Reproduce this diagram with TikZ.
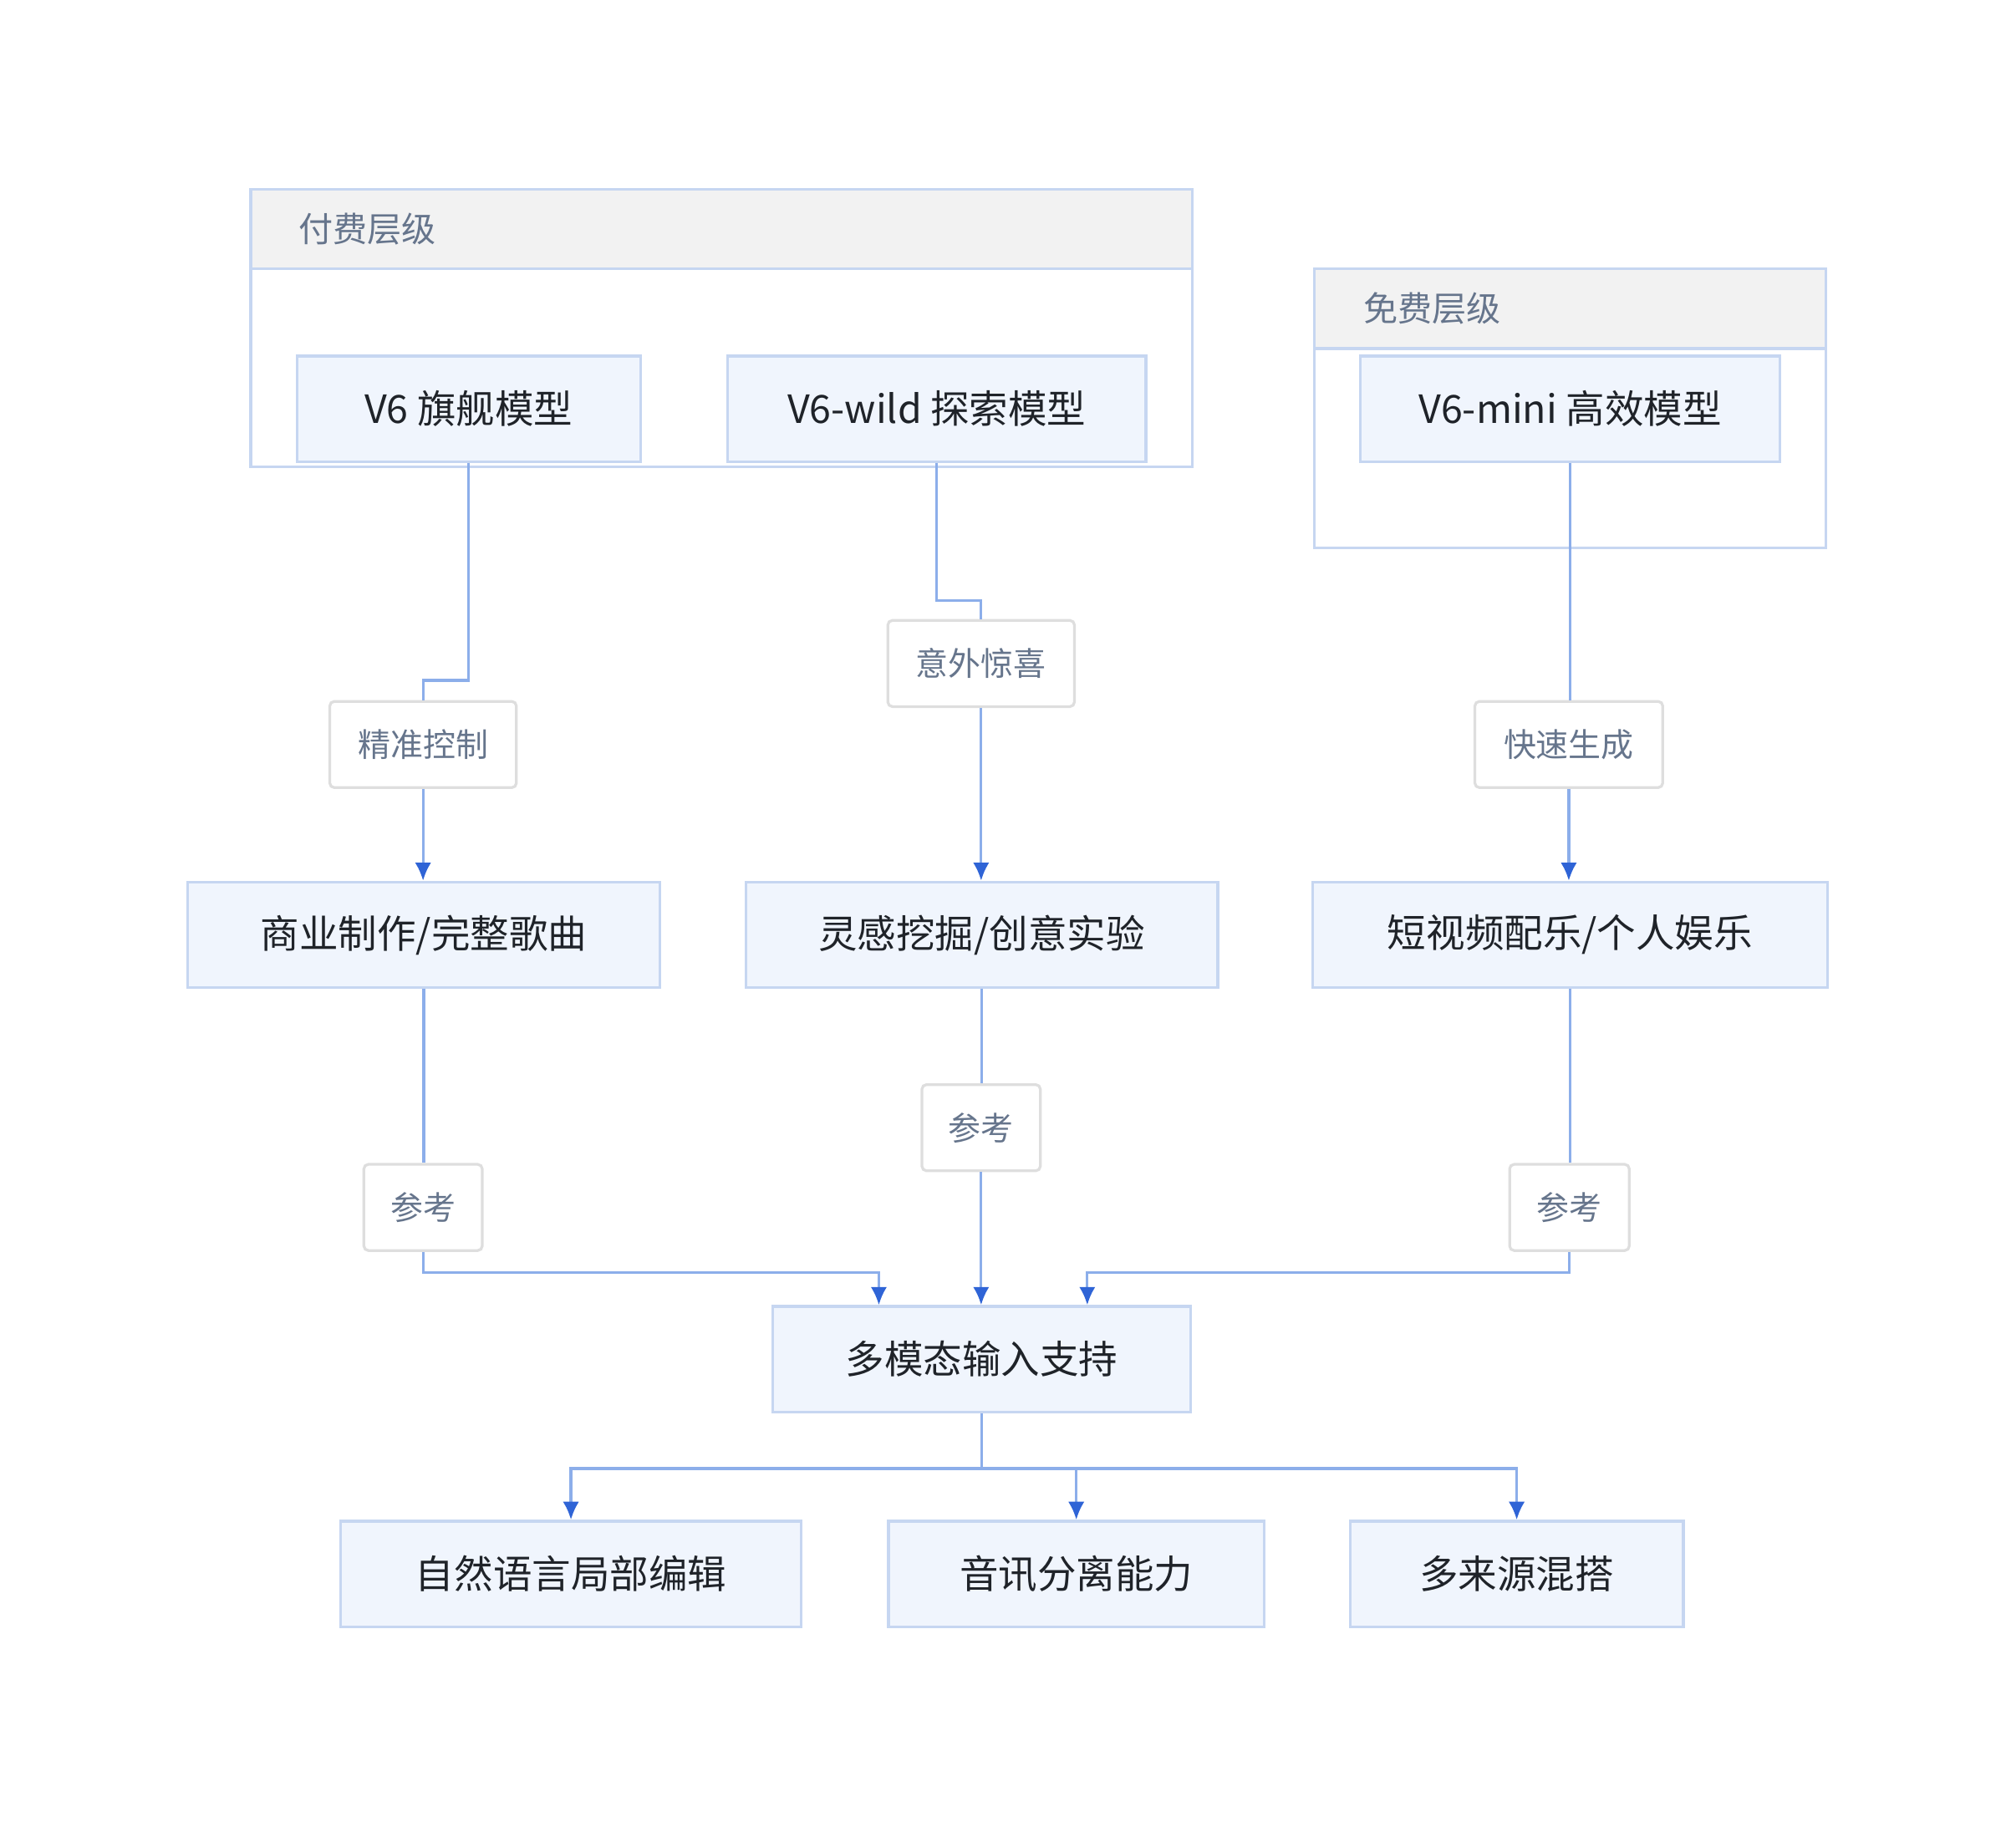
\documentclass[tikz,border=0pt]{standalone}
\usepackage{fontspec}
\setmainfont{Noto Sans CJK SC}
\usetikzlibrary{arrows.meta,positioning}
\definecolor{boxfill}{HTML}{F0F5FD}
\definecolor{boxline}{HTML}{C6D6F1}
\definecolor{wire}{HTML}{8CAEEA}
\definecolor{tip}{HTML}{2F64D6}
\definecolor{lbtext}{HTML}{66758C}
\definecolor{hdfill}{HTML}{F2F2F2}
\definecolor{ink}{HTML}{1F2329}
\tikzset{
  model/.style={draw=boxline,fill=boxfill,line width=0.6pt,text=ink,font=\fontsize{8.6}{10}\selectfont,minimum height=0.82cm,inner sep=0pt},
  edgelabel/.style={draw=black!13,fill=white,line width=0.6pt,rounded corners=1pt,text=lbtext,font=\fontsize{7.2}{9}\selectfont,minimum height=0.67cm,inner sep=0pt},
  group/.style={draw=boxline,line width=0.6pt},
  header/.style={draw=boxline,fill=hdfill,line width=0.6pt},
  link/.style={draw=wire,line width=0.6pt},
  arr/.style={link,-{Latex[color=tip,length=4pt,width=3.6pt]}}
}
\begin{document}
\begin{tikzpicture}[x=0.01cm,y=-0.01cm]
  \useasboundingbox (0,0) rectangle (1560,1437);
  % groups
  \draw[group] (195,147) rectangle (927,363);
  \draw[header] (195,147) rectangle (927,209);
  \node[anchor=west,text=lbtext,font=\fontsize{7.6}{9}\selectfont] (paidtitle) at (220,178) {付费层级};
  \draw[group] (1022,209) rectangle (1420,426);
  \draw[header] (1022,209) rectangle (1420,271);
  \node[anchor=west,text=lbtext,font=\fontsize{7.6}{9}\selectfont] (freetitle) at (1048,240) {免费层级};
  % models
  \node[model,minimum width=2.67cm] (v6) at (364.5,318) {V6 旗舰模型};
  \node[model,minimum width=3.25cm] (wild) at (728.5,318) {V6-wild 探索模型};
  \node[model,minimum width=3.26cm] (mini) at (1221,318) {V6-mini 高效模型};
  % use cases
  \node[model,minimum width=3.67cm] (biz) at (329.5,727) {商业制作/完整歌曲};
  \node[model,minimum width=3.67cm] (idea) at (763.5,727) {灵感挖掘/创意实验};
  \node[model,minimum width=4.00cm] (short) at (1221,727) {短视频配乐/个人娱乐};
  \node[model,minimum width=3.25cm] (multi) at (763.5,1057) {多模态输入支持};
  \node[model,minimum width=3.58cm] (edit) at (444,1224) {自然语言局部编辑};
  \node[model,minimum width=2.92cm] (sep) at (837,1224) {音讯分离能力};
  \node[model,minimum width=2.59cm] (mix) at (1179.5,1224) {多来源混搭};
  % labels
  \node[edgelabel,minimum width=1.45cm] (lbA) at (329,579) {精准控制};
  \node[edgelabel,minimum width=1.45cm] (lbB) at (763,516) {意外惊喜};
  \node[edgelabel,minimum width=1.46cm] (lbC) at (1220,579) {快速生成};
  \node[edgelabel,minimum width=0.92cm] (rfA) at (329,939) {参考};
  \node[edgelabel,minimum width=0.92cm] (rfB) at (763,877) {参考};
  \node[edgelabel,minimum width=0.93cm] (rfC) at (1220.5,939) {参考};
  % connectors
  \draw[link] (v6.south) -- ++(0,169) -| (lbA.north);
  \draw[arr] (lbA.south) -- (lbA.south |- biz.north);
  \draw[link] (wild.south) -- ++(0,107) -| (lbB.north);
  \draw[arr] (lbB.south) -- (lbB.south |- idea.north);
  \draw[link] (mini.south) -- (mini.south |- lbC.north);
  \draw[arr] (lbC.south) -- (lbC.south |- short.north);
  \draw[link] (biz.south) -- (biz.south |- rfA.north);
  \draw[arr] (rfA.south) -- ++(0,16) -| ([xshift=-0.8cm]multi.north);
  \draw[link] (idea.south) -- (idea.south |- rfB.north);
  \draw[arr] (rfB.south) -- (rfB.south |- multi.north);
  \draw[link] (short.south) -- (short.south |- rfC.north);
  \draw[arr] (rfC.south) -- ++(0,16) -| ([xshift=0.82cm]multi.north);
  \draw[link] (multi.south) -- ++(0,43) coordinate (fork);
  \draw[arr] (fork) -| (edit.north);
  \draw[arr] (fork) -| (sep.north);
  \draw[arr] (fork) -| (mix.north);
\end{tikzpicture}
\end{document}
